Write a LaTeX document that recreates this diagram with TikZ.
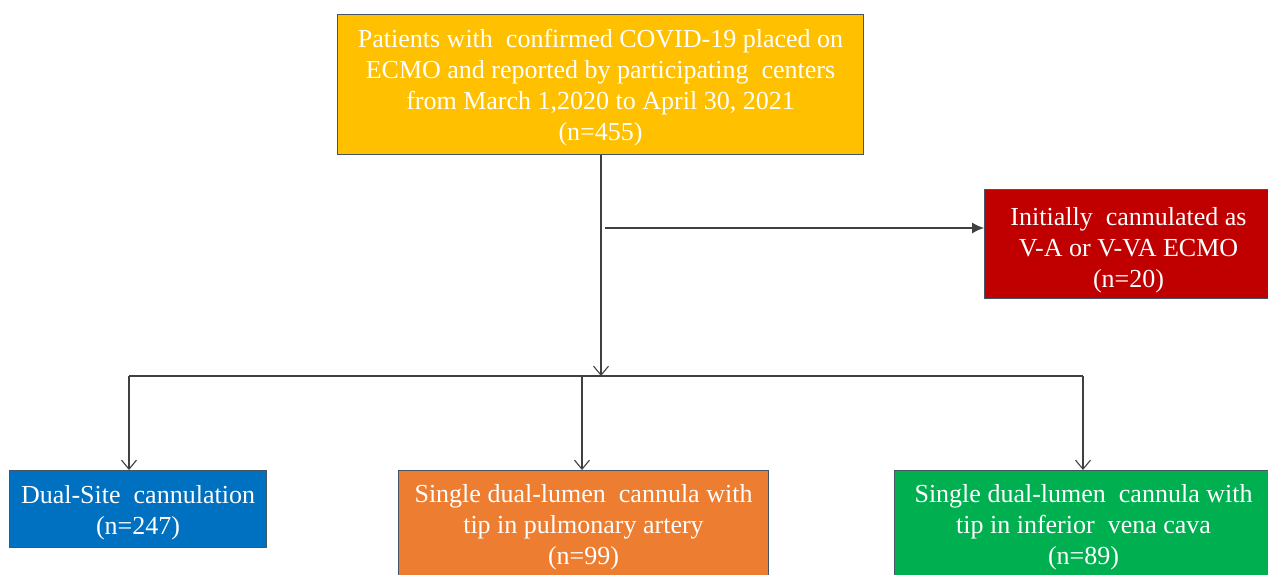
\documentclass[tikz,border=0pt]{standalone}
\usepackage{fontspec}
\setmainfont{Liberation Serif}
\usetikzlibrary{arrows.meta}
\definecolor{cyellow}{HTML}{FFC000}
\definecolor{cred}{HTML}{C00000}
\definecolor{cblue}{HTML}{0070C0}
\definecolor{corange}{HTML}{ED7D31}
\definecolor{cgreen}{HTML}{00B050}
\definecolor{cborder}{RGB}{70,84,104}
\definecolor{cline}{RGB}{64,64,64}
\tikzset{
  flowbox/.style={draw=cborder, line width=1pt, text=white, align=center,
    inner sep=0pt, font=\fontsize{26}{31}\selectfont},
  openarrow/.style={draw=cline, line width=1.1pt, -{Straight Barb[length=9pt,width=15pt,line width=1.1pt]}},
  plainline/.style={draw=cline, line width=1.1pt},
  filledarrow/.style={draw=cline, line width=1.1pt, -{Latex[length=12pt,width=11pt]}}
}
\begin{document}
\begin{tikzpicture}[x=1pt,y=-1pt]
\useasboundingbox (0,0) rectangle (1268,574);
\fill[white] (0,0) rectangle (1268,574);
\node[flowbox, fill=cyellow, minimum width=526pt, minimum height=140pt, anchor=north west]
  (top) at (337,14) {\rule{0pt}{6pt}\\[-12pt]Patients with \ confirmed COVID-19 placed on\\ECMO and reported by participating \ centers\\from March 1,2020 to April 30, 2021\\(n=455)};
\node[flowbox, fill=cred, minimum width=288pt, minimum height=109pt, anchor=north west]
  (excl) at (984,189) {\rule{0pt}{6pt}\\[-6pt]Initially \ cannulated as\\V-A or V-VA ECMO\\(n=20)};
\node[flowbox, fill=cblue, minimum width=257pt, minimum height=77pt, anchor=north west]
  (dual) at (9,470) {\rule{0pt}{4pt}\\[-10pt]Dual-Site \ cannulation\\(n=247)};
\node[flowbox, fill=corange, minimum width=370pt, inner ysep=14pt, anchor=north west]
  (pa) at (398,470) {Single dual-lumen \ cannula with\\tip in pulmonary artery\\(n=99)\\[4pt]};
\node[flowbox, fill=cgreen, minimum width=378pt, inner ysep=14pt, anchor=north west]
  (ivc) at (894,470) {Single dual-lumen \ cannula with\\tip in inferior \ vena cava\\(n=89)\\[4pt]};
\coordinate (junc) at (601,376);
\coordinate (side) at (605,228);
\coordinate (left) at (129,376);
\coordinate (mid) at (582,376);
\coordinate (right) at (1083,376);
\draw[openarrow] (top.south -| junc) -- (junc);
\draw[filledarrow] (side) -- (side -| excl.west);
\draw[plainline] (left) -- (right);
\draw[openarrow] (left) -- (left |- dual.north);
\draw[openarrow] (mid) -- (mid |- pa.north);
\draw[openarrow] (right) -- (right |- ivc.north);
\end{tikzpicture}
\end{document}
